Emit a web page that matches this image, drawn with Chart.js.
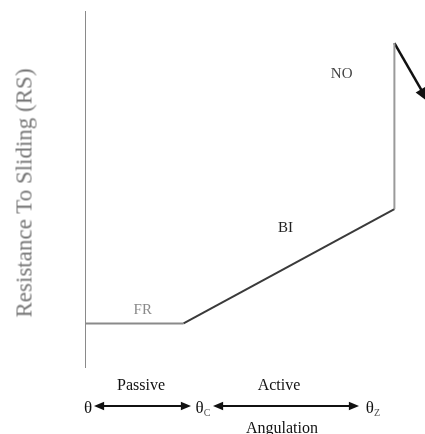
<!DOCTYPE html>
<html>
<head>
<meta charset="utf-8">
<script src="https://cdn.jsdelivr.net/npm/chart.js@4.4.0/dist/chart.umd.min.js"></script>
<style>
  html, body { margin: 0; padding: 0; background: #fff; overflow: hidden; }
  #wrap { position: relative; width: 425px; height: 434px; font-family: "Liberation Serif", serif; }
  canvas { display: block; }
  .lbl { position: absolute; transform: translate(-50%, -50%); white-space: nowrap; line-height: 1; }
  #ytitle { position: absolute; left: 24px; top: 193px; transform: translate(-50%, -50%) rotate(-90deg);
            white-space: nowrap; font-size: 23px; color: #777; line-height: 1; }
  sub { font-size: 10px; color: #555; vertical-align: -3px; }
</style>
</head>
<body>
<div id="wrap">
  <canvas id="rsChart" width="425" height="434"></canvas>
  <div id="ytitle">Resistance To Sliding (RS)</div>
  <div id="labels"></div>
</div>
<script>
// curve: friction plateau -> binding ramp -> notching jump
const curveX = [0, 2.9, 9.1, 9.1];
const curveY = [1.25, 1.25, 4.45, 9.1];
const segmentColors = ['#8a8a8a', '#3a3a3a', '#9a9a9a'];
const arrowX = [9.1, 10.1];
const arrowY = [9.1, 7.45];

const regionLabels = ['FR', 'BI', 'NO'];
const regionX = [1.7, 5.9, 7.55];
const regionY = [1.65, 3.95, 8.25];
const regionColors = ['#8a8a8a', '#222', '#444'];

function arrowHead(ctx, x1, y1, x2, y2, size) {
    const a = Math.atan2(y2 - y1, x2 - x1);
    ctx.beginPath();
    ctx.moveTo(x2, y2);
    ctx.lineTo(x2 - size * Math.cos(a - 0.4), y2 - size * Math.sin(a - 0.4));
    ctx.lineTo(x2 - size * Math.cos(a + 0.4), y2 - size * Math.sin(a + 0.4));
    ctx.closePath();
    ctx.fill();
}

function addLabel(html, left, top, size, color) {
    const d = document.createElement('div');
    d.className = 'lbl';
    d.innerHTML = html;
    d.style.left = left + 'px';
    d.style.top = top + 'px';
    d.style.fontSize = size + 'px';
    d.style.color = color;
    document.getElementById('labels').appendChild(d);
}

const arrows = {
    id: 'arrows',
    afterDraw(chart) {
        const ctx = chart.ctx;
        const x = chart.scales.x, y = chart.scales.y;
        ctx.save();
        ctx.fillStyle = '#111';
        ctx.strokeStyle = '#111';
        arrowHead(ctx,
            x.getPixelForValue(arrowX[0]), y.getPixelForValue(arrowY[0]),
            x.getPixelForValue(arrowX[1]), y.getPixelForValue(arrowY[1]), 16);

        // angulation arrows below the plot
        ctx.lineWidth = 2;
        [[94, 191], [213, 359]].forEach(([a, b]) => {
            ctx.beginPath();
            ctx.moveTo(a + 6, 406);
            ctx.lineTo(b - 6, 406);
            ctx.stroke();
            arrowHead(ctx, b, 406, a, 406, 11);
            arrowHead(ctx, a, 406, b, 406, 11);
        });
        ctx.restore();
    }
};

const chart = new Chart(document.getElementById('rsChart'), {
    type: 'scatter',
    data: {
        datasets: [
            {
                data: [{ x: 0, y: 0 }, { x: 0, y: 10 }],
                showLine: true,
                borderColor: '#8a8a8a',
                borderWidth: 2,
                pointRadius: 0
            },
            {
                data: curveX.map((v, i) => ({ x: v, y: curveY[i] })),
                showLine: true,
                borderWidth: 2,
                pointRadius: 0,
                borderColor: '#555',
                segment: {
                    borderColor: c => segmentColors[c.p0DataIndex]
                }
            },
            {
                data: arrowX.map((v, i) => ({ x: v, y: arrowY[i] })),
                showLine: true,
                borderColor: '#111',
                borderWidth: 2.5,
                pointRadius: 0,
                clip: false
            }
        ]
    },
    options: {
        responsive: false,
        animation: false,
        devicePixelRatio: 1,
        layout: { padding: { left: 85, top: 11, right: 0, bottom: 66 } },
        plugins: { legend: { display: false }, tooltip: { enabled: false } },
        scales: {
            x: { type: 'linear', min: 0, max: 10, display: false },
            y: { type: 'linear', min: 0, max: 10, display: false }
        }
    },
    plugins: [arrows]
});

regionLabels.forEach((t, i) => {
    addLabel(t, chart.scales.x.getPixelForValue(regionX[i]), chart.scales.y.getPixelForValue(regionY[i]), 15, regionColors[i]);
});
addLabel('Passive', 141, 385, 16, '#111');
addLabel('Active', 279, 385, 16, '#111');
addLabel('Angulation', 282, 428, 16, '#111');
addLabel('θ', 88, 407, 17, '#111');
addLabel('θ<sub>C</sub>', 203, 408, 17, '#111');
addLabel('θ<sub>Z</sub>', 373, 408, 17, '#111');
</script>
</body>
</html>
